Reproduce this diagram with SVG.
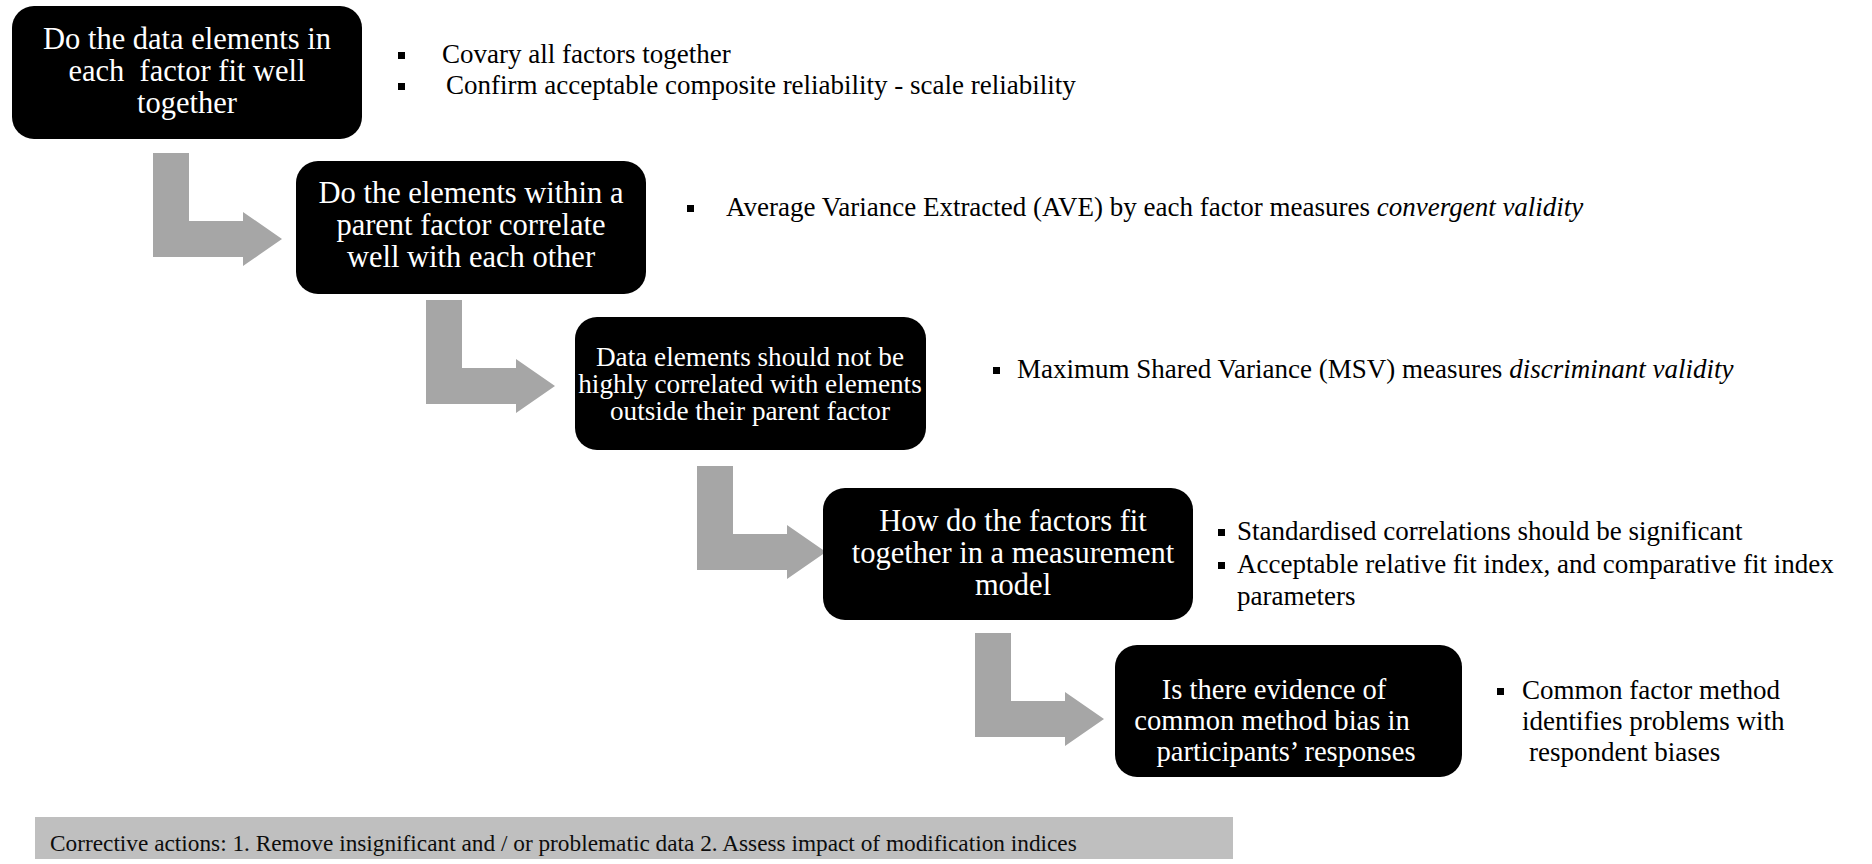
<svg xmlns="http://www.w3.org/2000/svg" width="1872" height="864" viewBox="0 0 1872 864">
  <style>
    .box { fill: #000000; }
    .bt { font-family: "Liberation Serif", "Times New Roman", serif; fill: #ffffff; text-anchor: middle; }
    .f31 { font-size: 30.5px; }
    .f29 { font-size: 28.6px; }
    .f27 { font-size: 27.2px; }
    .note { font-family: "Liberation Serif", "Times New Roman", serif; font-size: 27px; fill: #000000; }
    .sq { fill: #000000; }
    .arrow { fill: #a6a6a6; }
    .bar { fill: #bfbfbf; }
    .bartext { font-family: "Liberation Serif", "Times New Roman", serif; font-size: 23.3px; fill: #0d0d0d; }
    .it { font-style: italic; }
  </style>
  <defs>
    <!-- bent arrow: vertical stem, then a right-pointing head -->
    <path id="bentArrow" d="M0,0 H36 V68 H90 V59 L129,86 L90,113 V104 H0 Z"/>
  </defs>

  <rect width="1872" height="864" fill="#ffffff"/>

  <g id="connectors">
    <use href="#bentArrow" class="arrow" transform="translate(153 153)"/>
    <use href="#bentArrow" class="arrow" transform="translate(426 300)"/>
    <use href="#bentArrow" class="arrow" transform="translate(697 466)"/>
    <use href="#bentArrow" class="arrow" transform="translate(975 633)"/>
  </g>

  <g id="step1">
    <rect class="box" x="12" y="6" width="350" height="133" rx="22"/>
    <text class="bt f31" x="187" y="48.5">Do the data elements in</text>
    <text class="bt f31" x="187" y="80.5">each&#160; factor fit well</text>
    <text class="bt f31" x="187" y="112.5">together</text>
  </g>

  <g id="step1-notes">
    <rect class="sq" x="398" y="52" width="7" height="7"/>
    <rect class="sq" x="398" y="83" width="7" height="7"/>
    <text class="note" x="442" y="63">Covary all factors together</text>
    <text class="note" x="446" y="94">Confirm acceptable composite reliability - scale reliability</text>
  </g>

  <g id="step2">
    <rect class="box" x="296" y="161" width="350" height="133" rx="22"/>
    <text class="bt f31" x="471" y="203">Do the elements within a</text>
    <text class="bt f31" x="471" y="235">parent factor correlate</text>
    <text class="bt f31" x="471" y="267">well with each other</text>
  </g>

  <g id="step2-notes">
    <rect class="sq" x="687" y="205" width="7" height="7"/>
    <text class="note" x="726" y="216">Average Variance Extracted (AVE) by each factor measures <tspan class="it">convergent validity</tspan></text>
  </g>

  <g id="step3">
    <rect class="box" x="575" y="317" width="351" height="133" rx="22"/>
    <text class="bt f27" x="750" y="366">Data elements should not be</text>
    <text class="bt f27" x="750" y="393">highly correlated with elements</text>
    <text class="bt f27" x="750" y="420">outside their parent factor</text>
  </g>

  <g id="step3-notes">
    <rect class="sq" x="993" y="367" width="7" height="7"/>
    <text class="note" x="1017" y="378">Maximum Shared Variance (MSV) measures <tspan class="it">discriminant validity</tspan></text>
  </g>

  <g id="step4">
    <rect class="box" x="823" y="488" width="370" height="132" rx="22"/>
    <text class="bt f31" x="1013" y="531">How do the factors fit</text>
    <text class="bt f31" x="1013" y="563">together in a measurement</text>
    <text class="bt f31" x="1013" y="595">model</text>
  </g>

  <g id="step4-notes">
    <rect class="sq" x="1218" y="529" width="7" height="7"/>
    <rect class="sq" x="1218" y="562" width="7" height="7"/>
    <text class="note" x="1237" y="540">Standardised correlations should be significant</text>
    <text class="note" x="1237" y="573">Acceptable relative fit index, and comparative fit index</text>
    <text class="note" x="1237" y="605">parameters</text>
  </g>

  <g id="step5">
    <rect class="box" x="1115" y="645" width="347" height="132" rx="22"/>
    <text class="bt f29" x="1274" y="699">Is there evidence of</text>
    <text class="bt f29" x="1272" y="730">common method bias in</text>
    <text class="bt f29" x="1286" y="761">participants’ responses</text>
  </g>

  <g id="step5-notes">
    <rect class="sq" x="1497" y="688" width="7" height="7"/>
    <text class="note" x="1522" y="699">Common factor method</text>
    <text class="note" x="1522" y="730">identifies problems with</text>
    <text class="note" x="1529" y="761">respondent biases</text>
  </g>

  <g id="corrective-actions">
    <rect class="bar" x="35" y="817" width="1198" height="42"/>
    <text class="bartext" x="50" y="851">Corrective actions: 1. Remove insignificant and / or problematic data 2. Assess impact of modification indices</text>
  </g>
</svg>
